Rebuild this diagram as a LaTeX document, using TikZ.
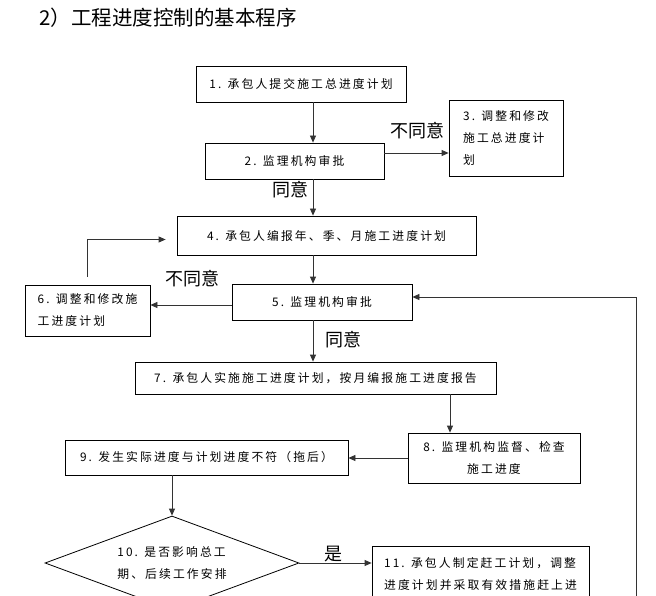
\documentclass[tikz,border=0pt]{standalone}
\usepackage{fontspec}
\setmainfont{Noto Sans CJK SC}
\newfontfamily\stepfont[LetterSpace=18]{Noto Sans CJK SC}
\usetikzlibrary{positioning}
\usetikzlibrary{shapes.geometric}
\usetikzlibrary{arrows.meta}

\begin{document}
\begin{tikzpicture}[x=1pt, y=-1pt,
    box/.style={draw, rectangle, line width=0.8pt, inner sep=3pt,
        font=\stepfont\fontsize{11.8}{22}\selectfont},
    arr/.style={draw=black!80, line width=0.8pt, -{Triangle[length=7pt,width=6pt]}},
    lbl/.style={font=\fontsize{18}{18}\selectfont}]

\useasboundingbox (0,0) rectangle (656,596);
\clip (0,0) rectangle (656,596);

% Title
\node[anchor=west, font=\fontsize{20.5}{20.5}\selectfont] (title) at (36,18) {2）工程进度控制的基本程序};

% Steps
\node[box, minimum width=210pt, minimum height=36pt] (s1) at (301,84) {1. 承包人提交施工总进度计划};
\node[box, minimum width=179pt, minimum height=36pt] (s2) at (294.5,161) {2. 监理机构审批};
\node[box, minimum width=114pt, minimum height=76pt, align=left] (s3) at (506,138) {3. 调整和修改\\施工总进度计\\划};
\node[box, minimum width=299pt, minimum height=39pt] (s4) at (326.5,235.5) {4. 承包人编报年、季、月施工进度计划};
\node[box, minimum width=180pt, minimum height=36pt] (s5) at (322,302) {5. 监理机构审批};
\node[box, minimum width=125pt, minimum height=51pt, align=left] (s6) at (87.5,310.5) {6. 调整和修改施\\工进度计划};
\node[box, minimum width=361pt, minimum height=32pt] (s7) at (315.5,378) {7. 承包人实施施工进度计划，按月编报施工进度报告};
\node[box, minimum width=172pt, minimum height=50pt, align=center] (s8) at (494,458) {8. 监理机构监督、检查\\施工进度};
\node[box, minimum width=283pt, minimum height=35pt] (s9) at (206.5,457.5) {9. 发生实际进度与计划进度不符（拖后）};
\node[box, shape=diamond, aspect=2.7, inner sep=0pt, minimum width=254pt, minimum height=94pt, align=left] (s10) at (172,563) {10. 是否影响总工\\期、后续工作安排};
\node[box, minimum width=217pt, minimum height=56pt, align=left] (s11) at (480.5,574) {11. 承包人制定赶工计划，调整\\进度计划并采取有效措施赶上进};

% Labels
\node[lbl] (no1) at (417,131) {不同意};
\node[lbl] (yes1) at (290,190) {同意};
\node[lbl] (no2) at (192,279) {不同意};
\node[lbl] (yes2) at (343,340) {同意};
\node[lbl] (yes3) at (333,554) {是};

% Main line
\coordinate (spine) at (313,0);
\foreach \a/\b in {s1/s2, s2/s4, s4/s5, s5/s7} {
    \draw[arr] (\a.south -| spine) -- (\b.north -| spine);
}

% Side branches
\draw[arr] ([yshift=8pt]s2.east) -- ([yshift=8pt]s2.east -| s3.west);
\draw[arr] ([yshift=-3pt]s5.west) -- ([yshift=-3pt]s5.west -| s6.east);
\draw[arr, shorten >=11pt] ([yshift=8pt]s6.north) |- ([yshift=-4pt]s4.west);
\draw[arr] ([xshift=-44pt]s8.north |- s7.south) -- ([xshift=-44pt]s8.north);
\draw[arr] (s8.west) -- (s8.west -| s9.east);
\draw[arr] (s9.south -| s10.north) -- (s10.north);
\draw[arr] (s10.east) -- (s10.east -| s11.west);

% Feedback
\coordinate (fb) at (636,650);
\draw[arr] (fb) |- ([yshift=5pt]s5.east);

\end{tikzpicture}
\end{document}
